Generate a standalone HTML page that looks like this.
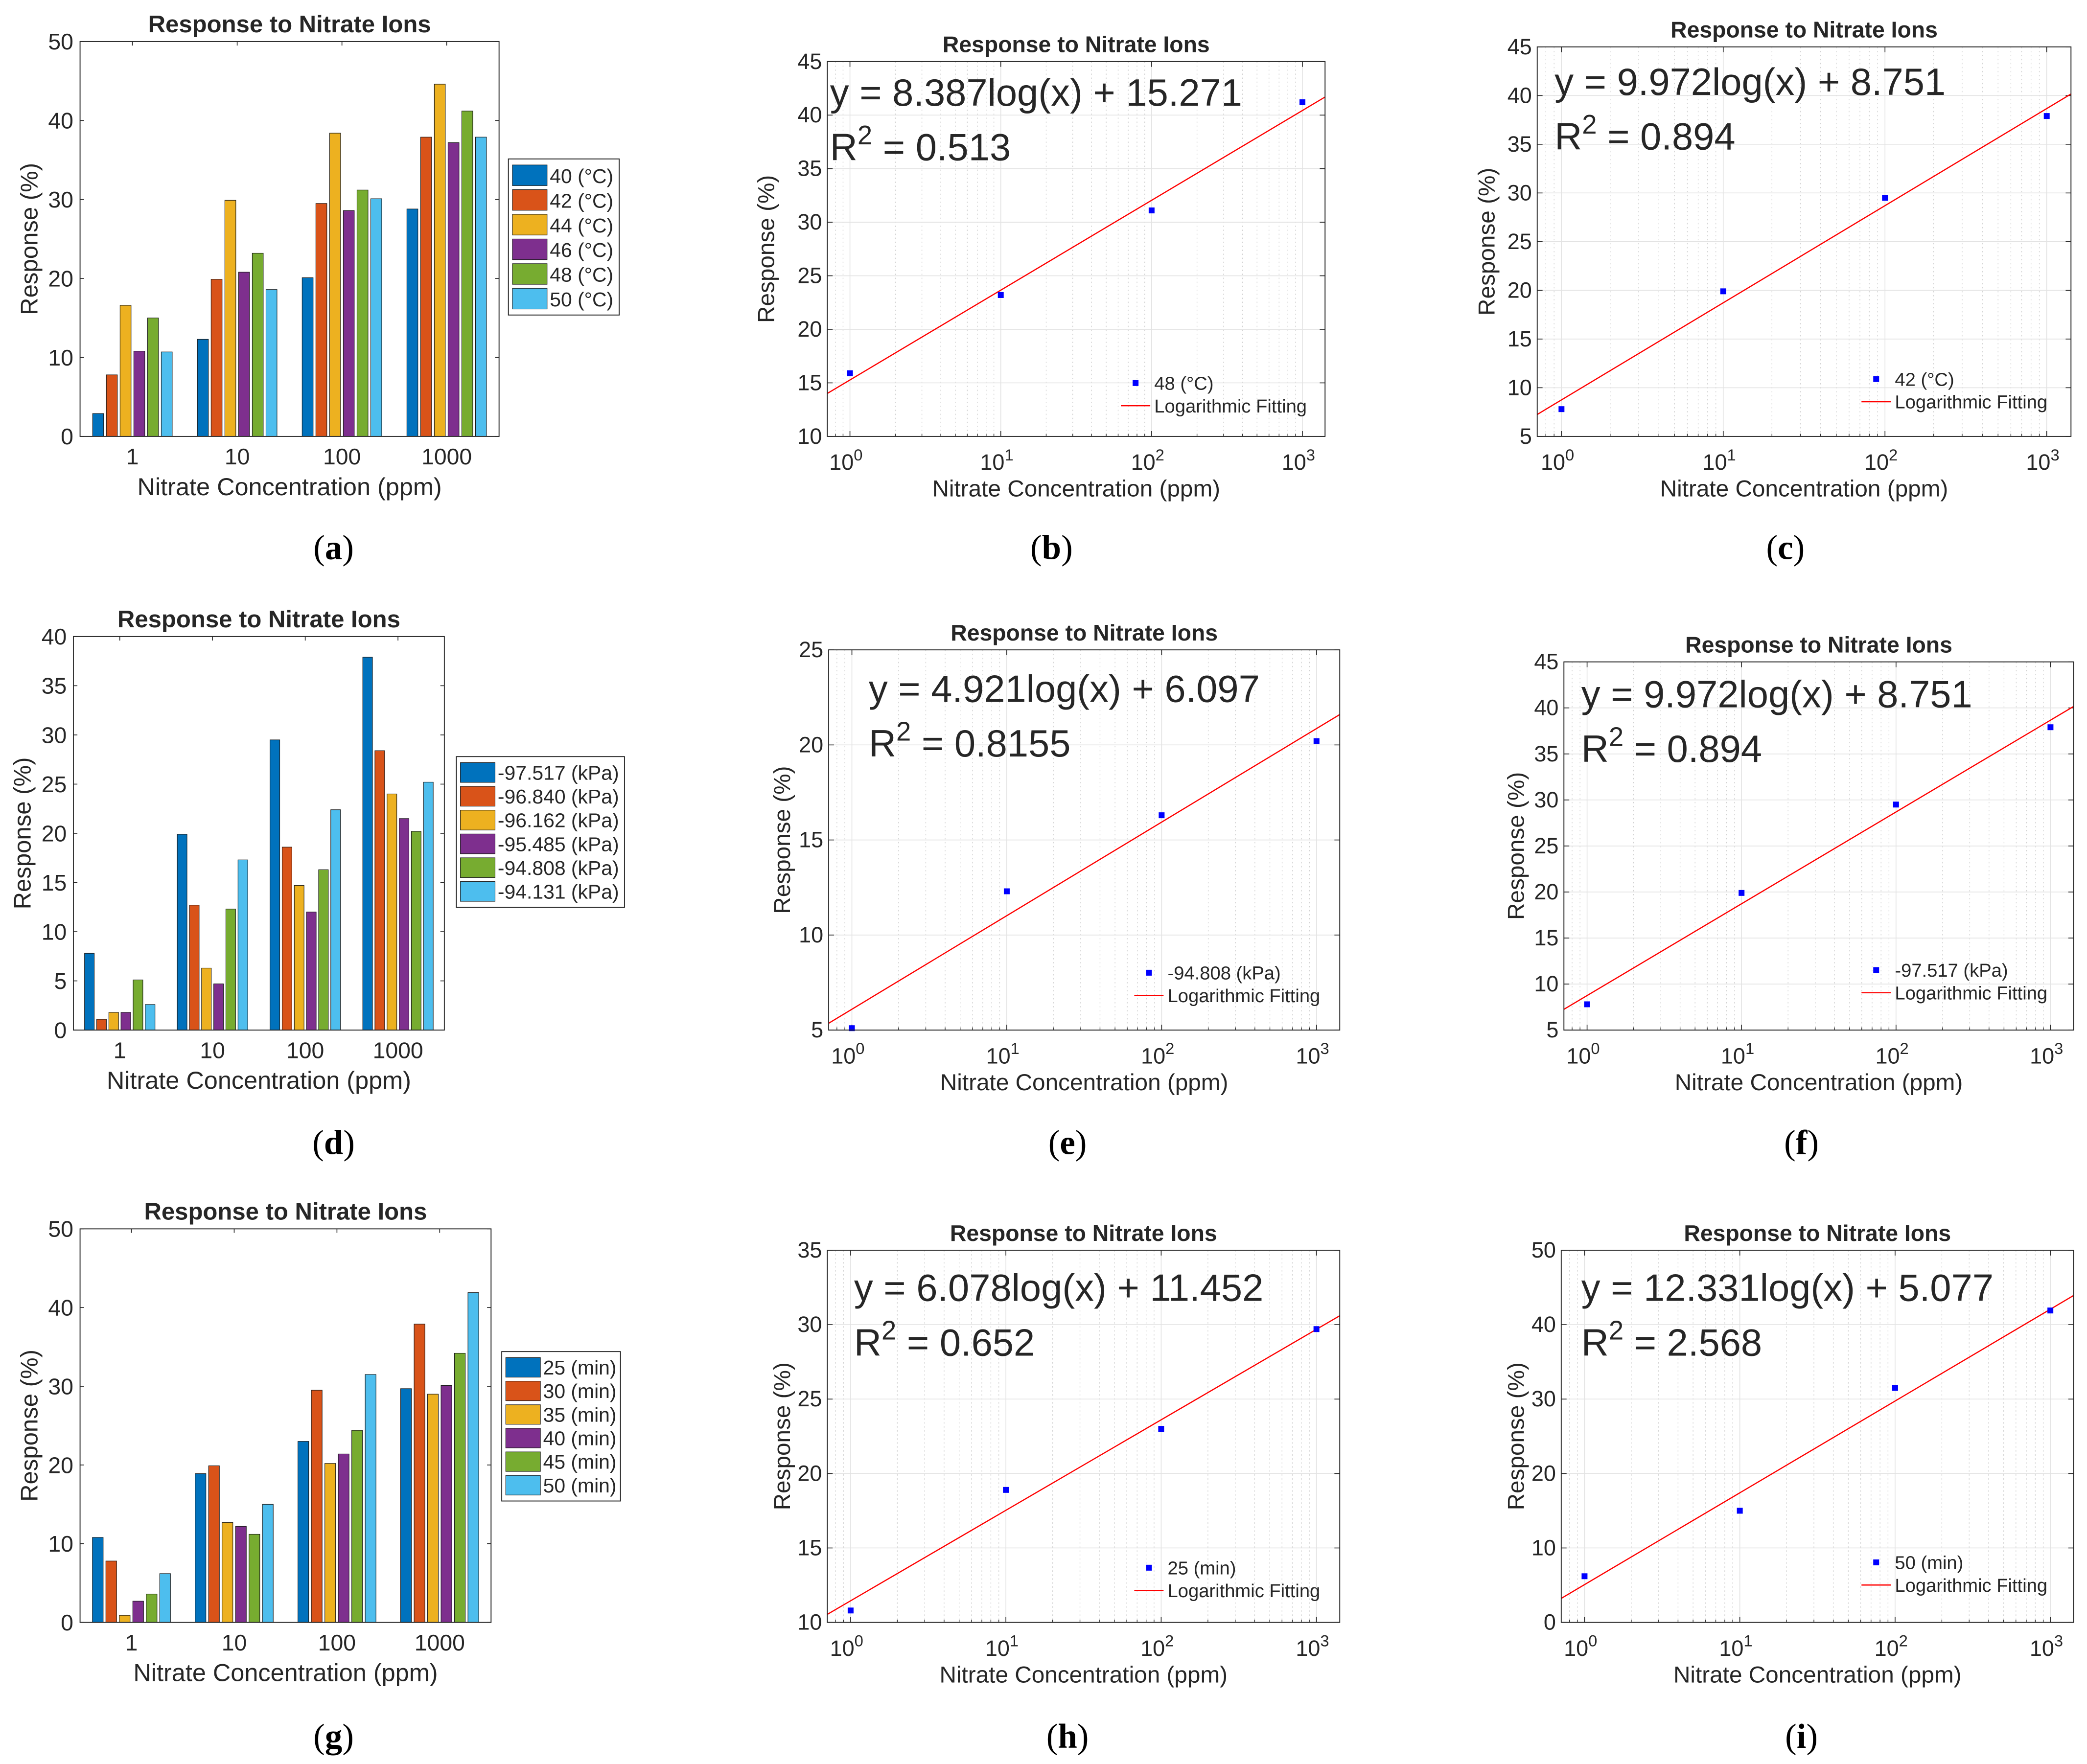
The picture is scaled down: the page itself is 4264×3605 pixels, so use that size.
<!DOCTYPE html>
<html><head><meta charset="utf-8"><title>Response to Nitrate Ions</title>
<style>
html,body{margin:0;padding:0;background:#fff;}
svg{display:block;}
text{font-family:"Liberation Sans",sans-serif;fill:#262626;}
text.serif{font-family:"Liberation Serif",serif;fill:#000;}
</style></head>
<body>
<svg id="fig" width="4264" height="3605" viewBox="0 0 1564 1322" xmlns="http://www.w3.org/2000/svg">
<rect width="1564" height="1322" fill="#fff"/>
</svg>
<script>
// ---- shared data ----
const categories = ["1", "10", "100", "1000"];
const colors = ["#0072BD", "#D95319", "#EDB120", "#7E2F8E", "#77AC30", "#4DBEEE"];
const concentrations = [1, 10, 100, 1000];

// panel a
const tempLabels = ["40 (°C)", "42 (°C)", "44 (°C)", "46 (°C)", "48 (°C)", "50 (°C)"];
const temp40 = [2.9, 12.3, 20.1, 28.8];
const temp42 = [7.8, 19.9, 29.5, 37.9];
const temp44 = [16.6, 29.9, 38.4, 44.6];
const temp46 = [10.8, 20.8, 28.6, 37.2];
const temp48 = [15.0, 23.2, 31.2, 41.2];
const temp50 = [10.7, 18.6, 30.1, 37.9];
const tempTicks = [0, 10, 20, 30, 40, 50];

// panel d
const pressLabels = ["-97.517 (kPa)", "-96.840 (kPa)", "-96.162 (kPa)", "-95.485 (kPa)", "-94.808 (kPa)", "-94.131 (kPa)"];
const press97517 = [7.8, 19.9, 29.5, 37.9];
const press96840 = [1.1, 12.7, 18.6, 28.4];
const press96162 = [1.8, 6.3, 14.7, 24.0];
const press95485 = [1.8, 4.7, 12.0, 21.5];
const press94808 = [5.1, 12.3, 16.3, 20.2];
const press94131 = [2.6, 17.3, 22.4, 25.2];
const pressTicks = [0, 5, 10, 15, 20, 25, 30, 35, 40];

// panel g
const timeLabels = ["25 (min)", "30 (min)", "35 (min)", "40 (min)", "45 (min)", "50 (min)"];
const time25 = [10.8, 18.9, 23.0, 29.7];
const time30 = [7.8, 19.9, 29.5, 37.9];
const time35 = [0.9, 12.7, 20.2, 29.0];
const time40 = [2.7, 12.2, 21.4, 30.1];
const time45 = [3.6, 11.2, 24.4, 34.2];
const time50 = [6.2, 15.0, 31.5, 41.9];
const timeTicks = [0, 10, 20, 30, 40, 50];

// fit panels
const fitB = [15.9, 23.2, 31.1, 41.2];
const fitBCoef = [8.387, 15.271];
const fitBTicks = [10, 15, 20, 25, 30, 35, 40, 45];
const fitC = [7.8, 19.9, 29.5, 37.9];
const fitCCoef = [9.972, 8.751];
const fitCTicks = [5, 10, 15, 20, 25, 30, 35, 40, 45];
const fitE = [5.1, 12.3, 16.3, 20.2];
const fitECoef = [4.921, 6.097];
const fitETicks = [5, 10, 15, 20, 25];
const fitF = [7.8, 19.9, 29.5, 37.9];
const fitFCoef = [9.972, 8.751];
const fitFTicks = [5, 10, 15, 20, 25, 30, 35, 40, 45];
const fitH = [10.8, 18.9, 23.0, 29.7];
const fitHCoef = [6.078, 11.452];
const fitHTicks = [10, 15, 20, 25, 30, 35];
const fitI = [6.2, 15.0, 31.5, 41.9];
const fitICoef = [12.331, 5.077];
const fitITicks = [0, 10, 20, 30, 40, 50];
const decadeTicks = [0, 1, 2, 3];

const NS = "http://www.w3.org/2000/svg";
const fig = document.getElementById("fig");
function mk(tag, attrs, parent) {
  const e = document.createElementNS(NS, tag);
  for (const k in attrs) e.setAttribute(k, attrs[k]);
  (parent || fig).appendChild(e);
  return e;
}
function txt(s, x, y, size, anchor, parent, bold) {
  const t = mk("text", {x: x, y: y, "font-size": size, "text-anchor": anchor || "middle"}, parent);
  if (bold) t.setAttribute("font-weight", "bold");
  t.textContent = s;
  return t;
}
function panelLabel(g, letter, x, y) {
  const pl = mk("text", {x: x, y: y, "font-size": 26, "text-anchor": "middle", "class": "serif"}, g);
  
  
  pl.appendChild(document.createTextNode("("));
  const b = mk("tspan", {"font-weight": "bold"}, pl);
  b.textContent = letter;
  pl.appendChild(document.createTextNode(")"));
}

function barChart(c) {
  const g = mk("g", {});
  
  
  const ymax = c.ticks[c.ticks.length - 1];
  const sy = v => c.y1 - (v / ymax) * (c.y1 - c.y0);
  const step = (c.x1 - c.x0) / c.cats.length;
  const cx = i => c.x0 + (i + 0.5) * step;
  c.ticks.forEach(t => {
    const y = sy(t);
    mk("line", {x1: c.x0, x2: c.x0 + 3, y1: y, y2: y, stroke: "#262626", "stroke-width": 0.6}, g);
    mk("line", {x1: c.x1, x2: c.x1 - 3, y1: y, y2: y, stroke: "#262626", "stroke-width": 0.6}, g);
    const tl = txt(String(t), c.x0 - 5, y + 6, 17, "end", g);
    
    
  });
  c.cats.forEach((cat, i) => {
    mk("line", {x1: cx(i), x2: cx(i), y1: c.y0, y2: c.y0 + 3, stroke: "#262626", "stroke-width": 0.6}, g);
    const tl = txt(cat, cx(i), c.y1 + 21, 17, "middle", g);
    
    
  });
  const n = c.series.length;
  const bw = step * 0.105, gap = step * 0.026;
  const groupW = n * bw + (n - 1) * gap;
  c.series.forEach((s, j) => {
    s.forEach((v, i) => {
      const x = cx(i) - groupW / 2 + j * (bw + gap);
      const r = mk("rect", {x: x, y: sy(v), width: bw, height: sy(0) - sy(v), fill: colors[j], stroke: "#1a1a1a", "stroke-width": 0.4}, g);
      
      
    });
  });
  const box = mk("rect", {x: c.x0, y: c.y0, width: c.x1 - c.x0, height: c.y1 - c.y0, fill: "none", stroke: "#262626", "stroke-width": 0.7}, g);
  
  
  const ti = txt("Response to Nitrate Ions", (c.x0 + c.x1) / 2, c.y0 - 7, 18, "middle", g, true);
  ti.setAttribute("fill", "#000");
  
  
  const xl = txt("Nitrate Concentration (ppm)", (c.x0 + c.x1) / 2, c.y1 + 44, 18.5, "middle", g);
  
  
  const yl = txt("Response (%)", 0, 0, 18, "middle", g);
  yl.setAttribute("transform", "translate(" + c.ylx + "," + (c.y0 + c.y1) / 2 + ") rotate(-90)");
  
  
  const lg = mk("g", {}, g);
  
  
  mk("rect", {x: c.lx, y: c.ly, width: c.lw, height: c.lh, fill: "#fff", stroke: "#262626", "stroke-width": 0.7}, lg);
  const rowH = (c.lh - 6) / n;
  c.labels.forEach((lab, j) => {
    const y = c.ly + 3 + j * rowH;
    mk("rect", {x: c.lx + 3, y: y + 1.5, width: 26, height: rowH - 3, fill: colors[j], stroke: "#1a1a1a", "stroke-width": 0.4}, lg);
    const t = txt(lab, c.lx + 31, y + rowH - 3.5, 15, "start", lg);
    
    
  });
  panelLabel(g, c.panel, c.px, c.py);
}

function fitChart(c) {
  const g = mk("g", {});
  
  
  const lmin = -0.15, lmax = 3.15;
  const sx = l => c.x0 + (l - lmin) / (lmax - lmin) * (c.x1 - c.x0);
  const ymin = c.ticks[0], ymax = c.ticks[c.ticks.length - 1];
  const sy = v => c.y1 - (v - ymin) / (ymax - ymin) * (c.y1 - c.y0);
  for (let d = -1; d <= 3; d++) {
    for (let m = 2; m <= 9; m++) {
      const l = d + Math.log10(m);
      if (l <= lmin || l >= lmax) continue;
      mk("line", {x1: sx(l), x2: sx(l), y1: c.y0, y2: c.y1, stroke: "#d0d0d0", "stroke-width": 0.5, "stroke-dasharray": "1,2"}, g);
      mk("line", {x1: sx(l), x2: sx(l), y1: c.y1, y2: c.y1 - 2, stroke: "#262626", "stroke-width": 0.5}, g);
    }
  }
  c.ticks.forEach(t => {
    const y = sy(t);
    mk("line", {x1: c.x0, x2: c.x1, y1: y, y2: y, stroke: "#e3e3e3", "stroke-width": 0.6}, g);
    mk("line", {x1: c.x0, x2: c.x0 + 4, y1: y, y2: y, stroke: "#262626", "stroke-width": 0.6}, g);
    mk("line", {x1: c.x1, x2: c.x1 - 4, y1: y, y2: y, stroke: "#262626", "stroke-width": 0.6}, g);
    const tl = txt(String(t), c.x0 - 4, y + 5.5, 16.5, "end", g);
    
    
  });
  decadeTicks.forEach(d => {
    const x = sx(d);
    mk("line", {x1: x, x2: x, y1: c.y0, y2: c.y1, stroke: "#e3e3e3", "stroke-width": 0.6}, g);
    mk("line", {x1: x, x2: x, y1: c.y1, y2: c.y1 - 4, stroke: "#262626", "stroke-width": 0.6}, g);
    mk("line", {x1: x, x2: x, y1: c.y0, y2: c.y0 + 4, stroke: "#262626", "stroke-width": 0.6}, g);
    const t = mk("text", {x: x - 3, y: c.y1 + 25, "font-size": 16.5, "text-anchor": "middle"}, g);
    
    
    t.appendChild(document.createTextNode("10"));
    const sp = mk("tspan", {dy: -7, "font-size": 12}, t);
    sp.textContent = String(d);
  });
  const ya = c.coef[0] * lmin + c.coef[1], yb = c.coef[0] * lmax + c.coef[1];
  const fl = mk("line", {x1: sx(lmin), y1: sy(ya), x2: sx(lmax), y2: sy(yb), stroke: "#ff0000", "stroke-width": 0.9}, g);
  
  
  c.data.forEach((v, i) => {
    const px = sx(Math.log10(concentrations[i])), py = sy(v);
    const p = mk("rect", {x: px - 2.2, y: py - 2.2, width: 4.4, height: 4.4, fill: "#0000ff"}, g);
    
    
  });
  const box = mk("rect", {x: c.x0, y: c.y0, width: c.x1 - c.x0, height: c.y1 - c.y0, fill: "none", stroke: "#262626", "stroke-width": 0.7}, g);
  
  
  const eq = txt(c.eq, c.ex, c.ey, 28.5, "start", g);
  eq.setAttribute("fill", "#000");
  
  
  const r2 = mk("text", {x: c.ex, y: c.ey + 41, "font-size": 28.5, fill: "#000"}, g);
  
  
  r2.appendChild(document.createTextNode("R"));
  const s2 = mk("tspan", {dy: -12, "font-size": 20}, r2);
  s2.textContent = "2";
  const s3 = mk("tspan", {dy: 12}, r2);
  s3.textContent = " = " + c.r2;
  const ti = txt("Response to Nitrate Ions", (c.x0 + c.x1) / 2, c.y0 - 7, 17, "middle", g, true);
  ti.setAttribute("fill", "#000");
  
  
  const xl = txt("Nitrate Concentration (ppm)", (c.x0 + c.x1) / 2, c.y1 + 45, 17.5, "middle", g);
  
  
  const yl = txt("Response (%)", 0, 0, 17.5, "middle", g);
  yl.setAttribute("transform", "translate(" + c.ylx + "," + (c.y0 + c.y1) / 2 + ") rotate(-90)");
  
  
  const lg = mk("g", {}, g);
  
  
  mk("rect", {x: c.lx - 2.2, y: c.ly - 2.2 - 4, width: 4.4, height: 4.4, fill: "#0000ff"}, lg);
  const t1 = txt(c.series, c.lx + 14, c.ly + 1, 14, "start", lg);
  
  
  mk("line", {x1: c.lx - 11, x2: c.lx + 11, y1: c.ly + 13, y2: c.ly + 13, stroke: "#ff0000", "stroke-width": 0.9}, lg);
  const t2 = txt("Logarithmic Fitting", c.lx + 14, c.ly + 18, 14, "start", lg);
  
  
  panelLabel(g, c.panel, c.px, c.py);
}

barChart({name: "chart-a-temperature", x0: 60, x1: 374, y0: 31, y1: 327, ticks: tempTicks, cats: categories,
  series: [temp40, temp42, temp44, temp46, temp48, temp50], labels: tempLabels,
  lx: 381, ly: 119, lw: 83, lh: 117, ylx: 28, panel: "a", px: 250, py: 419});
barChart({name: "chart-d-pressure", x0: 55, x1: 333, y0: 477, y1: 772, ticks: pressTicks, cats: categories,
  series: [press97517, press96840, press96162, press95485, press94808, press94131], labels: pressLabels,
  lx: 342, ly: 567, lw: 126, lh: 113, ylx: 23, panel: "d", px: 250, py: 865});
barChart({name: "chart-g-time", x0: 60, x1: 368, y0: 921, y1: 1216, ticks: timeTicks, cats: categories,
  series: [time25, time30, time35, time40, time45, time50], labels: timeLabels,
  lx: 376, ly: 1013, lw: 89, lh: 112, ylx: 28, panel: "g", px: 250, py: 1310});

fitChart({name: "chart-b-fit", x0: 620, x1: 993, y0: 46, y1: 327, ticks: fitBTicks, data: fitB, coef: fitBCoef,
  eq: "y = 8.387log(x) + 15.271", r2: "0.513", ex: 622, ey: 79, series: "48 (°C)", lx: 851, ly: 291, ylx: 580, panel: "b", px: 788, py: 419});
fitChart({name: "chart-c-fit", x0: 1152, x1: 1552, y0: 35, y1: 327, ticks: fitCTicks, data: fitC, coef: fitCCoef,
  eq: "y = 9.972log(x) + 8.751", r2: "0.894", ex: 1165, ey: 71, series: "42 (°C)", lx: 1406, ly: 288, ylx: 1120, panel: "c", px: 1338, py: 419});
fitChart({name: "chart-e-fit", x0: 621, x1: 1004, y0: 487, y1: 772, ticks: fitETicks, data: fitE, coef: fitECoef,
  eq: "y = 4.921log(x) + 6.097", r2: "0.8155", ex: 651, ey: 526, series: "-94.808 (kPa)", lx: 861, ly: 733, ylx: 592, panel: "e", px: 800, py: 865});
fitChart({name: "chart-f-fit", x0: 1172, x1: 1554, y0: 496, y1: 772, ticks: fitFTicks, data: fitF, coef: fitFCoef,
  eq: "y = 9.972log(x) + 8.751", r2: "0.894", ex: 1185, ey: 530, series: "-97.517 (kPa)", lx: 1406, ly: 731, ylx: 1142, panel: "f", px: 1350, py: 865});
fitChart({name: "chart-h-fit", x0: 620, x1: 1004, y0: 937, y1: 1216, ticks: fitHTicks, data: fitH, coef: fitHCoef,
  eq: "y = 6.078log(x) + 11.452", r2: "0.652", ex: 640, ey: 975, series: "25 (min)", lx: 861, ly: 1179, ylx: 592, panel: "h", px: 800, py: 1310});
fitChart({name: "chart-i-fit", x0: 1170, x1: 1554, y0: 937, y1: 1216, ticks: fitITicks, data: fitI, coef: fitICoef,
  eq: "y = 12.331log(x) + 5.077", r2: "2.568", ex: 1185, ey: 975, series: "50 (min)", lx: 1406, ly: 1175, ylx: 1142, panel: "i", px: 1350, py: 1310});
</script>
</body></html>
